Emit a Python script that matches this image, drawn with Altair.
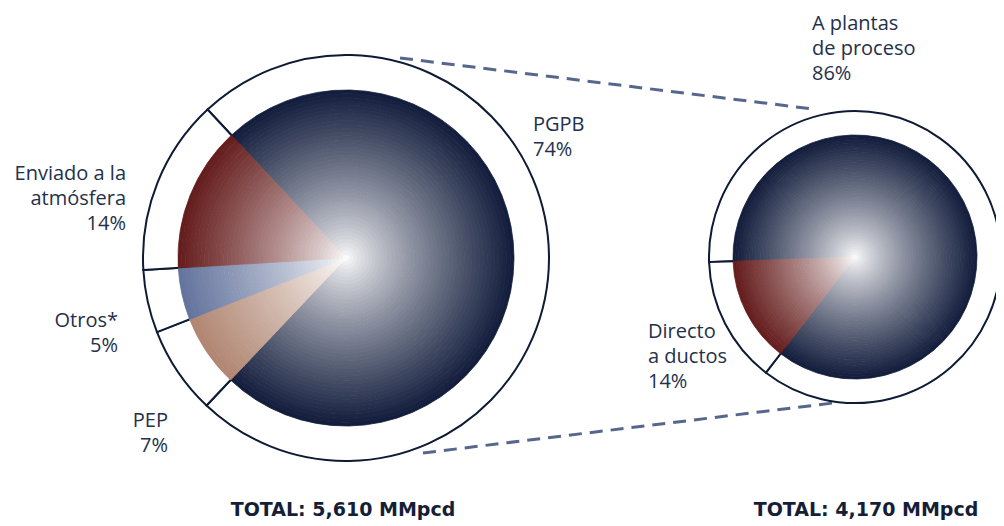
import math
import altair as alt
import numpy as np
import pandas as pd

# ---------------- data ----------------
left_slices = ["PGPB", "PEP", "Otros*", "Enviado a la atmósfera"]
left_values = [74, 7, 5, 14]
left_label_lines = [["PGPB"], ["PEP"], ["Otros*"], ["Enviado a la", "atmósfera"]]

right_slices = ["A plantas de proceso", "Directo a ductos"]
right_values = [86, 14]
right_label_lines = [["A plantas", "de proceso"], ["Directo", "a ductos"]]

totals = ["TOTAL: 5,610 MMpcd", "TOTAL: 4,170 MMpcd"]

# ---------------- style ----------------
NAVY = "#111c3b"
RED = "#641b1b"
OTROS_C = "#63739c"
PEP_C = "#b08571"
left_edges = [NAVY, PEP_C, OTROS_C, RED]
right_edges = [NAVY, RED]
RING_C = "#0d1b35"
TEXT_C = "#24304b"
DASH_C = "#56668c"
FONT = "Open Sans"
N_BANDS = 44

W, H = 988, 514


def slice_df(labels, values):
    return pd.DataFrame({"slice": labels, "value": values, "order": list(range(len(labels)))})


def band_df(labels, values):
    df = slice_df(labels, values)
    b = pd.DataFrame({"band": np.arange(N_BANDS)})
    out = df.merge(b, how="cross")
    out["r_in"] = out["band"] / N_BANDS
    out["r_out"] = (out["band"] + 1) / N_BANDS
    out["t"] = (out["band"] + 0.5) / N_BANDS
    return out


def pie_layers(labels, values, edges, cx, cy, R, ring_out, ring_in, start_deg):
    a0 = math.radians(start_deg)
    th_scale = alt.Scale(domain=[0, 100], range=[a0, a0 + 2 * math.pi])
    layers = []
    ring = (
        alt.Chart(slice_df(labels, values))
        .transform_window(cum="sum(value)", sort=[alt.SortField("order")], frame=[None, 0])
        .transform_calculate(start="datum.cum - datum.value")
        .mark_arc(fill="white", stroke=RING_C, strokeWidth=2)
        .encode(
            x=alt.value(cx),
            y=alt.value(cy),
            theta=alt.Theta("start:Q", stack=None, scale=th_scale),
            theta2="cum:Q",
            radius=alt.value(ring_out),
            radius2=alt.value(ring_in),
        )
    )
    layers.append(ring)
    bands = band_df(labels, values)
    for name, edge in zip(labels, edges):
        cscale = alt.Scale(type="pow", exponent=0.8, domain=[0, 1],
                           range=["#ffffff", edge], interpolate="rgb")
        lay = (
            alt.Chart(bands)
            .transform_window(cum="sum(value)", groupby=["band"],
                              sort=[alt.SortField("order")], frame=[None, 0])
            .transform_calculate(start="datum.cum - datum.value")
            .transform_filter(alt.datum.slice == name)
            .mark_arc(strokeWidth=0.8)
            .encode(
                x=alt.value(cx),
                y=alt.value(cy),
                theta=alt.Theta("start:Q", stack=None, scale=th_scale),
                theta2="cum:Q",
                radius=alt.Radius("r_out:Q", scale=alt.Scale(type="linear", domain=[0, 1],
                                                             range=[0, R], zero=True)),
                radius2="r_in:Q",
                color=alt.Color("t:Q", scale=cscale, legend=None),
                stroke=alt.Stroke("t:Q", scale=cscale, legend=None),
            )
        )
        layers.append(lay)
    return layers


def text_layer(txt, x, y, align, size=20, weight="normal", font=FONT, color=TEXT_C):
    return (
        alt.Chart(alt.Data(values=[{"t": txt}]))
        .mark_text(align=align, baseline="alphabetic", font=font, fontSize=size,
                   fontWeight=weight, lineHeight=25, lineBreak="\n", color=color)
        .encode(x=alt.value(x), y=alt.value(y), text="t:N")
    )


def dash_rule(x1, y1, x2, y2):
    return (
        alt.Chart(alt.Data(values=[{}]))
        .mark_rule(strokeDash=[13, 8], strokeWidth=3, color=DASH_C)
        .encode(x=alt.value(x1), y=alt.value(y1), x2=alt.value(x2), y2=alt.value(y2))
    )


layers = []
layers += [dash_rule(392, 50, 805, 101), dash_rule(415, 445, 825, 395)]
layers += pie_layers(left_slices, left_values, left_edges, 338, 250, 168, 203, 158, 317)
layers += pie_layers(right_slices, right_values, right_edges, 847, 249, 122, 146, 112, 268)


def lbl(lines, v):
    return "\n".join(lines + [f"{v}%"])


# label placements (layout only)
left_pos = [(525, 123, "left"), (160, 419, "right"), (110, 319, "right"), (118, 172, "right")]
right_pos = [(804, 22, "left"), (640, 330, "left")]
for lines, v, (x, y, a) in zip(left_label_lines, left_values, left_pos):
    layers.append(text_layer(lbl(lines, v), x, y, a))
for lines, v, (x, y, a) in zip(right_label_lines, right_values, right_pos):
    layers.append(text_layer(lbl(lines, v), x, y, a))

layers.append(text_layer(totals[0], 335, 508, "center", size=19, weight="bold",
                         font="DejaVu Sans", color="#141e36"))
layers.append(text_layer(totals[1], 858, 508, "center", size=19, weight="bold",
                         font="DejaVu Sans", color="#141e36"))

chart = (
    alt.layer(*layers)
    .resolve_scale(theta="independent", radius="independent",
                   color="independent", stroke="independent")
    .properties(width=W, height=H, autosize=alt.AutoSizeParams(type="none"), padding=0)
    .configure_view(stroke=None)
)

chart.save("out.html", embed_options={"renderer": "svg", "actions": False})
